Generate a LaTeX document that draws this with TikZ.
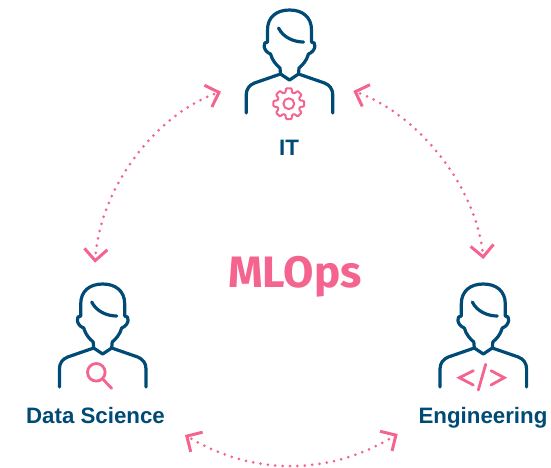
\documentclass[tikz,border=0pt]{standalone}
\usepackage{fontspec}
\usetikzlibrary{arrows.meta}
\setmainfont{Liberation Sans}
\newfontfamily\titlefont{Fira Sans Bold}
\definecolor{navy}{HTML}{004B75}
\definecolor{rosy}{HTML}{F4648F}
\tikzset{
  person/.pic={
    \draw[personline] (-22,32) -- (-22,20) .. controls (-22,7) and (-13,0) .. (0,0)
      .. controls (13,0) and (22,7) .. (22,20) -- (22,32);
    \draw[personline] (-22,32) .. controls (-27,31) and (-27,41) .. (-19,44)
      .. controls (-17,51) and (-13,55) .. (-9.5,58) -- (-9,64) -- (0,70) -- (9,64) -- (9.5,58)
      .. controls (13,55) and (17,51) .. (19,44) .. controls (27,41) and (27,31) .. (22,32);
    \draw[personline] (-9,64) -- (-35,73) .. controls (-40,75) and (-43.3,79) .. (-43.3,85) -- (-43.3,103);
    \draw[personline] (9,64) -- (35,73) .. controls (40,75) and (43.3,79) .. (43.3,85) -- (43.3,103);
    \draw[personline] (-11,18) .. controls (-6,28) and (5,32) .. (14,32);
  },
  personline/.style={draw=navy,line width=3.2pt,line cap=round,line join=round},
  iconline/.style={draw=rosy,line width=2.8pt,line cap=round,line join=miter},
  gearline/.style={draw=rosy,line width=2pt,line join=round},
  link/.style={draw=rosy,line width=3pt,line cap=round,dash pattern=on 0pt off 7.4pt,dash phase=3.7pt,
    {Straight Barb[length=11.5pt,width=23pt,line width=3pt]}-{Straight Barb[length=11.5pt,width=23pt,line width=3pt]}},
  caption/.style={anchor=base,text=navy,font=\bfseries\fontsize{22.3}{26}\selectfont,inner sep=0pt},
}
\begin{document}
\begin{tikzpicture}[x=1pt,y=-1pt]
\useasboundingbox (0,0) rectangle (551,467);
\pic at (289.5,10) {person};
\pic at (102.7,284) {person};
\pic at (483.3,284) {person};
% gear
\begin{scope}[shift={(288.8,103.7)}]
  \draw[gearline,rounded corners=0.8pt] (-10:15.6) -- (10:15.6)
    -- (17:11.6) -- (28:11.6) -- (35:15.6) -- (55:15.6)
    -- (62:11.6) -- (73:11.6) -- (80:15.6) -- (100:15.6)
    -- (107:11.6) -- (118:11.6) -- (125:15.6) -- (145:15.6)
    -- (152:11.6) -- (163:11.6) -- (170:15.6) -- (190:15.6)
    -- (197:11.6) -- (208:11.6) -- (215:15.6) -- (235:15.6)
    -- (242:11.6) -- (253:11.6) -- (260:15.6) -- (280:15.6)
    -- (287:11.6) -- (298:11.6) -- (305:15.6) -- (325:15.6)
    -- (332:11.6) -- (343:11.6) -- cycle;
  \draw[gearline] (0,0) circle (5.4);
\end{scope}
% magnifier
\draw[iconline] (96.3,372.3) circle (8.8);
\draw[iconline] (103,379.4) -- (111.7,388.3);
% code
\draw[iconline] (473.3,370.7) -- (459.3,377.7) -- (473.3,385);
\draw[iconline] (491,370.7) -- (504.3,377.7) -- (491,385);
\draw[iconline] (485.7,364.3) -- (478.3,390);
% labels
\node[caption] (it) at (289,155) {IT};
\node[caption] (ds) at (95.5,423) {Data Science};
\node[caption] (eng) at (483,423) {Engineering};
\node[anchor=base,text=rosy,inner sep=0pt,font=\titlefont\fontsize{44}{50}\selectfont] (title) at (295,287) {MLOps};
% connectors
\coordinate (itL) at (221,91.7);
\coordinate (dsT) at (95,262.7);
\coordinate (itR) at (353.3,91);
\coordinate (engT) at (483.3,259);
\coordinate (dsB) at (185,435);
\coordinate (engB) at (397.7,434);
\draw[link] (itL) .. controls (156,114) and (100,187) .. (dsT);
\draw[link] (itR) .. controls (418,114) and (476.8,187) .. (engT);
\draw[link] (dsB) .. controls (253,476) and (329,476) .. (engB);
\end{tikzpicture}
\end{document}
